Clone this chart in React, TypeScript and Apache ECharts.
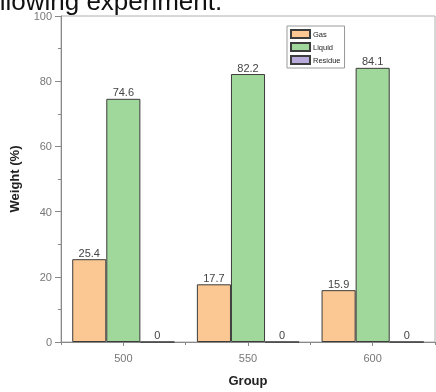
import React, { useEffect, useRef } from "react";
import * as echarts from "echarts";

const categories = ["500", "550", "600"];
const gasValues = [25.4, 17.7, 15.9];
const liquidValues = [74.6, 82.2, 84.1];
const residueValues = [0, 0, 0];
const seriesNames = ["Gas", "Liquid", "Residue"];
const colors = ["#FBC893", "#A0D89B", "#B9AADC"];

const FONT = "'Liberation Sans', Arial, sans-serif";

export default function App() {
  const ref = useRef<HTMLDivElement>(null);
  useEffect(() => {
    if (!ref.current) return;
    const chart = echarts.init(ref.current, null, { renderer: "svg" });
    const values = [gasValues, liquidValues, residueValues];
    const series = values.map((v, i) => ({
      name: seriesNames[i],
      type: "bar",
      xAxisIndex: 0,
      data: v,
      barGap: "0%",
      barCategoryGap: "18%",
      itemStyle: { color: colors[i], borderColor: "#3c3c3c", borderWidth: 1 },
      label: {
        show: true,
        position: "top",
        distance: 1,
        fontFamily: FONT,
        fontSize: 11,
        color: "#444",
      },
    }));
    chart.setOption({
      animation: false,
      textStyle: { fontFamily: FONT },
      graphic: [
        {
          type: "text",
          x: -22,
          y: 14,
          style: {
            text: "following experiment.",
            font: `26px ${FONT}`,
            fill: "#111",
            verticalAlign: "bottom",
            align: "left",
          },
        },
      ],
      grid: {
        left: 61,
        right: 1,
        top: 16,
        bottom: 50,
        show: true,
        borderColor: "#b0b0b0",
        borderWidth: 1,
      },
      legend: {
        data: seriesNames,
        left: 287,
        top: 26,
        orient: "vertical",
        itemWidth: 19,
        itemHeight: 8,
        itemGap: 3,
        padding: [3, 4, 3, 3],
        borderColor: "#999",
        borderWidth: 1,
        icon: "rect",
        textStyle: { fontFamily: FONT, fontSize: 7.5, color: "#222", padding: [0, 0, 0, -2] },
      },
      xAxis: [
        {
          type: "category",
          data: categories,
          name: "Group",
          nameLocation: "middle",
          nameGap: 32,
          nameTextStyle: { fontFamily: FONT, fontSize: 13, fontWeight: "bold", color: "#222" },
          axisLine: { show: true, lineStyle: { color: "#888", width: 1 } },
          axisTick: { show: true, alignWithLabel: true, length: 4, lineStyle: { color: "#888" } },
          axisLabel: { fontFamily: FONT, fontSize: 11, color: "#777", margin: 10 },
        },
        {
          type: "category",
          data: categories,
          position: "bottom",
          axisLine: { show: false },
          axisTick: { show: true, length: 3, lineStyle: { color: "#888" } },
          axisLabel: { show: false },
        },
      ],
      yAxis: {
        type: "value",
        min: 0,
        max: 100,
        interval: 20,
        name: "Weight (%)",
        nameLocation: "middle",
        nameGap: 40,
        nameTextStyle: { fontFamily: FONT, fontSize: 13, fontWeight: "bold", color: "#222" },
        axisLine: { show: true, lineStyle: { color: "#888", width: 1 } },
        axisTick: { show: true, length: 6, lineStyle: { color: "#888" } },
        minorTick: { show: true, splitNumber: 2, length: 3, lineStyle: { color: "#888" } },
        splitLine: { show: false },
        axisLabel: { fontFamily: FONT, fontSize: 11, color: "#777", margin: 9 },
      },
      series,
    });
    return () => chart.dispose();
  }, []);
  return (
    <div
      ref={ref}
      style={{ position: "fixed", left: 0, top: 0, width: 436, height: 392 }}
    />
  );
}
